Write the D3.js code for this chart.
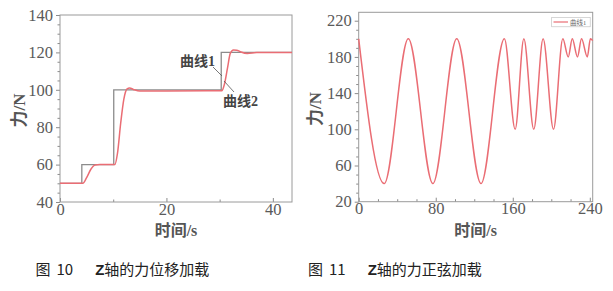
<!DOCTYPE html>
<html>
<head>
<meta charset="utf-8">
<script src="https://cdn.jsdelivr.net/npm/d3@7"></script>
<style>
  html, body { margin: 0; padding: 0; background: #fff; }
  svg { display: block; }
</style>
</head>
<body>
<div id="chart"></div>
<script>
// fig 10 : step command (curve 1) and measured response (curve 2)
const stepTimes = [0, 4.1, 4.1, 10.1, 10.1, 30.3, 30.3, 43.6];
const stepForce = [50, 50, 60, 60, 100, 100, 120, 120];
const respTimes = [0, 4.3, 5.0, 5.8, 6.6, 7.5, 10.3, 10.8, 11.4, 12.0, 12.6, 13.1, 13.8, 15.0, 20, 30.4, 30.9, 31.5, 32.0, 32.6, 33.2, 34.0, 35.2, 37.0, 43.6];
const respForce = [50, 50, 53, 57.5, 59.8, 60, 60, 66, 82, 95, 100.5, 101, 100.2, 99.3, 99.4, 99.5, 103, 112, 119.5, 121.3, 121.2, 120.2, 119.4, 119.9, 120];

// fig 11 : sine loading
const sineTimes = [0, 26.5, 51.5, 77, 101.8, 127, 151.3, 162.5, 171.5, 181.8, 191.5, 202.3, 212, 217.6, 221.8, 227.2, 231.4, 237.4, 240.6, 243];
const sineForce = [200, 40, 200, 40, 200, 40, 200, 100, 200, 100, 200, 100, 200, 180, 200, 180, 200, 180, 200, 198];

const leftYMajor = [40, 60, 80, 100, 120, 140];
const leftXMajor = [0, 20, 40];
const rightYMajor = [20, 60, 100, 140, 180, 220];
const rightXMajor = [0, 80, 160, 240];

const W = 613, H = 291;
const serif = '"Liberation Serif", "Noto Sans CJK SC", serif';
const red = '#ea6d74';
const grey = '#8c8c8c';

const svg = d3.select('#chart').append('svg')
    .attr('width', W).attr('height', H);

function panel(opt) {
    const x = d3.scaleLinear().domain(opt.xDomain).range([opt.left, opt.right]);
    const y = d3.scaleLinear().domain(opt.yDomain).range([opt.bottom, opt.top]);
    const g = svg.append('g');

    // minor ticks
    g.append('g')
        .attr('transform', `translate(${opt.left},0)`)
        .call(d3.axisLeft(y).tickValues(opt.yMinor).tickSize(2.5).tickFormat(''))
        .call(a => a.select('.domain').remove())
        .selectAll('line').attr('stroke', grey);
    g.append('g')
        .attr('transform', `translate(0,${opt.bottom})`)
        .call(d3.axisBottom(x).tickValues(opt.xMinor).tickSize(-2.5).tickFormat(''))
        .call(a => a.select('.domain').remove())
        .selectAll('line').attr('stroke', grey);

    // major ticks + labels
    const ya = g.append('g')
        .attr('transform', `translate(${opt.left},0)`)
        .call(d3.axisLeft(y).tickValues(opt.yMajor).tickSize(4).tickPadding(3).tickFormat(d3.format('d')));
    const xa = g.append('g')
        .attr('transform', `translate(0,${opt.bottom})`)
        .call(d3.axisBottom(x).tickValues(opt.xMajor).tickSize(-4).tickPadding(6).tickFormat(d3.format('d')));
    [ya, xa].forEach(a => {
        a.select('.domain').remove();
        a.selectAll('line').attr('stroke', grey);
        a.selectAll('text')
            .attr('font-family', serif)
            .attr('font-size', 16.5)
            .attr('fill', '#5a5a5a');
    });
    xa.selectAll('text').attr('y', 1);

    // frame
    g.append('rect')
        .attr('x', opt.left).attr('y', opt.top)
        .attr('width', opt.right - opt.left).attr('height', opt.bottom - opt.top)
        .attr('fill', 'none').attr('stroke', '#9a9a9a').attr('stroke-width', 1);

    // axis titles
    g.append('text')
        .attr('transform', `translate(${opt.yTitleX},${(opt.top + opt.bottom) / 2 + 2}) rotate(-90)`)
        .attr('text-anchor', 'middle').attr('dominant-baseline', 'central')
        .attr('font-family', serif).attr('font-size', 17).attr('font-weight', 'bold')
        .attr('fill', '#555')
        .text('力/N');
    g.append('text')
        .attr('x', (opt.left + opt.right) / 2).attr('y', 236)
        .attr('text-anchor', 'middle')
        .attr('font-family', serif).attr('font-size', 16).attr('font-weight', 'bold')
        .attr('fill', '#555')
        .text('时间/s');

    return {g, x, y};
}

// ---------- fig 10 ----------
const p1 = panel({
    left: 60, right: 292, top: 15, bottom: 202,
    xDomain: [0, 43.6], yDomain: [40, 140],
    yMajor: leftYMajor, yMinor: d3.range(45, 140, 5).filter(v => v % 20 !== 0),
    xMajor: leftXMajor, xMinor: [10, 30],
    yTitleX: 19
});

const line1 = d3.line().x(d => p1.x(d[0])).y(d => p1.y(d[1]));
p1.g.append('path')
    .datum(d3.zip(stepTimes, stepForce))
    .attr('d', line1)
    .attr('fill', 'none').attr('stroke', grey).attr('stroke-width', 1.3);

const line2 = d3.line().curve(d3.curveMonotoneX).x(d => p1.x(d[0])).y(d => p1.y(d[1]));
p1.g.append('path')
    .datum(d3.zip(respTimes, respForce))
    .attr('d', line2)
    .attr('fill', 'none').attr('stroke', red).attr('stroke-width', 1.5);

// callouts
const cjkLabel = (x, y, t) => p1.g.append('text')
    .attr('x', x).attr('y', y)
    .attr('font-family', serif).attr('font-size', 14).attr('font-weight', 'bold')
    .attr('fill', '#444').text(t);
cjkLabel(180, 66, '曲线1');
cjkLabel(223, 106, '曲线2');
p1.g.append('line').attr('x1', 213).attr('y1', 67).attr('x2', 222).attr('y2', 76)
    .attr('stroke', '#555').attr('stroke-width', 0.8);
p1.g.append('line').attr('x1', 224).attr('y1', 81).attr('x2', 234).attr('y2', 92)
    .attr('stroke', '#555').attr('stroke-width', 0.8);

// ---------- fig 11 ----------
const p2 = panel({
    left: 358.7, right: 592.7, top: 12.3, bottom: 201.7,
    xDomain: [0, 243], yDomain: [20, 229.3],
    yMajor: rightYMajor, yMinor: d3.range(30, 229, 10).filter(v => (v - 20) % 40 !== 0),
    xMajor: rightXMajor, xMinor: d3.range(20, 243, 20).filter(v => v % 80 !== 0),
    yTitleX: 315
});

const line3 = d3.line().curve(d3.curveMonotoneX).x(d => p2.x(d[0])).y(d => p2.y(d[1]));
p2.g.append('path')
    .datum(d3.zip(sineTimes, sineForce))
    .attr('d', line3)
    .attr('fill', 'none').attr('stroke', red).attr('stroke-width', 1.5);

// legend
const lg = p2.g.append('g');
lg.append('rect').attr('x', 551.7).attr('y', 17.3).attr('width', 38.5).attr('height', 9.5)
    .attr('fill', '#fff').attr('stroke', '#bbb').attr('stroke-width', 0.6);
lg.append('line').attr('x1', 553.5).attr('x2', 568).attr('y1', 22).attr('y2', 22)
    .attr('stroke', red).attr('stroke-width', 1.2);
lg.append('text').attr('x', 570).attr('y', 24.5)
    .attr('font-family', serif).attr('font-size', 6.5).attr('fill', '#666')
    .text('曲线1');

// ---------- captions ----------
const caption = (x, num, rest) => {
    const t = svg.append('text')
        .attr('x', x).attr('y', 275)
        .attr('font-family', '"Noto Sans CJK SC", sans-serif')
        .attr('font-size', 15).attr('fill', '#222');
    t.append('tspan').text('图');
    t.append('tspan').attr('dx', 6).text(num);
    t.append('tspan').attr('dx', 22)
        .attr('font-family', '"Liberation Sans", sans-serif').attr('font-weight', 'bold')
        .text('Z');
    t.append('tspan').text(rest);
};
caption(35.5, '10', '轴的力位移加载');
caption(308, '11', '轴的力正弦加载');
</script>
</body>
</html>
